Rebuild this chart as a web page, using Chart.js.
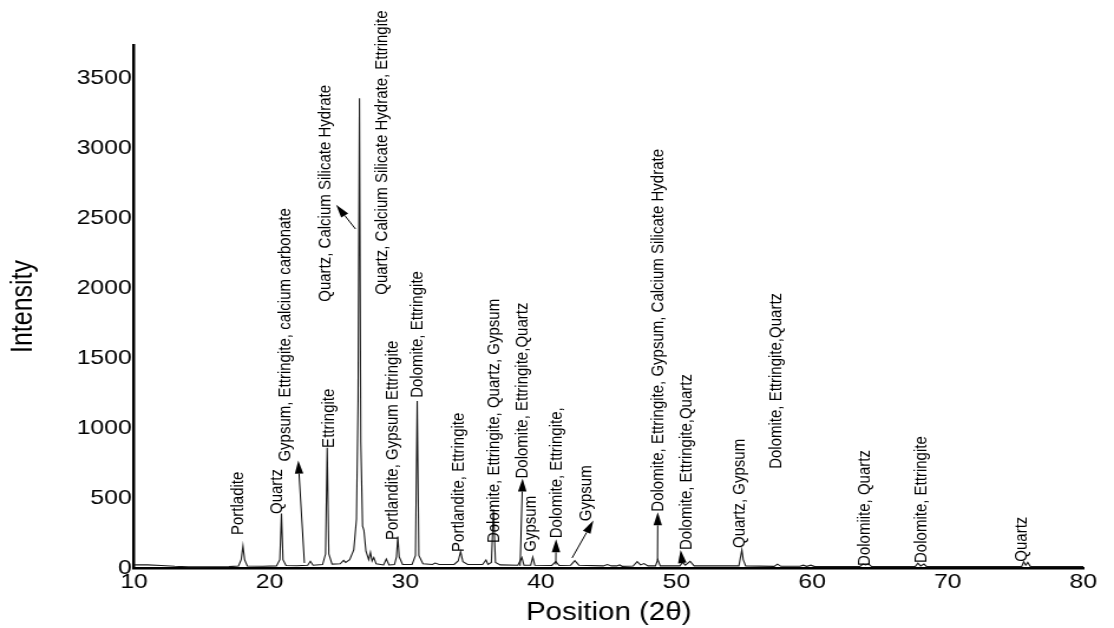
<!DOCTYPE html>
<html lang="en">
  <head>
    <meta charset="UTF-8" />
    <title>XRD pattern</title>
    <style>
      html, body { margin: 0; padding: 0; background: #fff; overflow: hidden; }
    </style>
  </head>
  <body>
    <!-- the original figure is stretched sideways, so the canvas is drawn narrower and widened by CSS -->
    <canvas id="xrd" width="944" height="628" style="width:1114px;height:628px;display:block"></canvas>

    <script src="https://cdn.jsdelivr.net/npm/chart.js"></script>
    <script>
      // diffraction angle (2 theta) and intensity
      const twoTheta = [
        10.0, 11.0, 12.0, 13.0, 14.0, 15.0, 16.0, 17.0, 17.7, 17.9, 18.03, 18.15, 18.35,
        19.5, 20.5, 20.75, 20.87, 20.98, 21.2, 22.0, 22.8, 23.0, 23.2, 23.9, 24.12, 24.24,
        24.36, 24.6, 25.2, 25.45, 25.6, 25.9, 26.2, 26.4, 26.52, 26.62, 26.72, 26.85, 26.95,
        27.1, 27.3, 27.43, 27.55, 27.68, 27.85, 28.4, 28.6, 28.8, 29.2, 29.35, 29.45, 29.55,
        29.8, 30.5, 30.75, 30.88, 31.0, 31.3, 32.0, 32.2, 32.5, 33.6, 33.9, 34.08, 34.25,
        34.6, 35.7, 35.95, 36.1, 36.35, 36.5, 36.65, 37.0, 38.3, 38.6, 38.75, 39.25, 39.4,
        39.55, 40.8, 41.1, 41.35, 42.2, 42.5, 42.8, 44.6, 44.9, 45.2, 45.6, 45.8, 46.0,
        46.8, 47.1, 47.35, 47.6, 47.9, 48.45, 48.62, 48.8, 50.25, 50.45, 50.65, 51.0, 51.3,
        54.6, 54.82, 54.92, 55.1, 57.2, 57.45, 57.7, 59.1, 59.35, 59.6, 59.9, 60.2, 63.5,
        63.75, 63.95, 64.15, 64.4, 67.6, 67.8, 68.0, 68.25, 68.45, 75.45, 75.6, 75.75, 75.9,
        76.1, 80.0
      ];
      const intensity = [
        22, 22, 18, 12, 8, 8, 9, 10, 14, 60, 157, 60, 14,
        12, 15, 60, 390, 60, 18, 16, 20, 48, 20, 25, 100, 860,
        100, 28, 30, 55, 40, 60, 130, 350, 1200, 3360, 900, 300, 270,
        120, 60, 112, 50, 75, 30, 22, 64, 22, 25, 80, 225, 80,
        25, 25, 90, 1195, 90, 30, 25, 35, 25, 25, 50, 117, 45,
        25, 25, 57, 25, 40, 420, 40, 22, 20, 75, 20, 20, 78,
        20, 18, 45, 18, 20, 52, 20, 15, 25, 15, 15, 22, 12,
        14, 45, 22, 32, 15, 15, 60, 15, 15, 40, 20, 48, 15,
        15, 130, 60, 15, 12, 28, 12, 12, 20, 12, 20, 10, 10,
        28, 22, 30, 10, 10, 35, 15, 28, 10, 10, 45, 20, 40,
        10, 10
      ];

      const xTicks = [10, 20, 30, 40, 50, 60, 70, 80];
      const yTicks = [0, 500, 1000, 1500, 2000, 2500, 3000, 3500];

      // phase labels: text, 2theta of the label column, intensity where the text starts
      const phaseText = [
        "Portladite", "Quartz", "Gypsum, Ettringite, calcium carbonate",
        "Quartz, Calcium Silicate Hydrate", "Ettringite",
        "Quartz, Calcium Silicate Hydrate, Ettringite", "Portlandite, Gypsum Ettringite",
        "Dolomite, Ettringite", "Portlandite, Ettringite",
        "Dolomite, Ettringite, Quartz, Gypsum", "Dolomite, Ettringite,Quartz", "Gypsum",
        "Dolomite, Ettringite,", "Gypsum",
        "Dolomite, Ettringite, Gypsum, Calcium Silicate Hydrate",
        "Dolomite, Ettringite,Quartz", "Quartz, Gypsum", "Dolomite, Ettringite,Quartz",
        "Dolomiite, Quartz", "Dolomite, Ettringite", "Quartz"
      ];
      const phaseAt = [17.64, 20.55, 21.2, 24.1, 24.37, 28.27, 29.12, 30.9, 33.95, 36.55,
        38.68, 39.3, 41.14, 43.35, 48.63, 50.73, 54.65, 57.37, 63.85, 68.1, 75.44];
      const phaseFrom = [236, 386, 761, 1904, 859, 1954, 200, 1217, 115, 178,
        640, 117, 213, 335, 403, 129, 143, 709, 15, 36, 45];

      // arrows: [2theta, intensity] of tail and head
      const arrowTail = [[22.56, 36], [26.33, 2424], [38.47, 15], [41.1, 25], [42.3, 72], [48.6, 55], [50.42, 40]];
      const arrowHead = [[22.11, 768], [24.9, 2598], [38.65, 640], [41.12, 205], [43.87, 339], [48.62, 398], [50.3, 128]];

      const points = twoTheta.map((t, i) => ({ x: t, y: intensity[i] }));

      const phaseLabels = {
        id: "phaseLabels",
        afterDatasetsDraw(chart) {
          const { ctx, scales } = chart;
          const xs = scales.x;
          const ys = scales.y;
          ctx.save();
          ctx.fillStyle = "#000";
          ctx.strokeStyle = "#000";
          ctx.font = "15px 'Liberation Sans', Arial, sans-serif";
          ctx.textAlign = "left";
          ctx.textBaseline = "middle";
          phaseText.forEach((txt, i) => {
            ctx.save();
            ctx.translate(xs.getPixelForValue(phaseAt[i]), ys.getPixelForValue(phaseFrom[i]));
            ctx.rotate(-Math.PI / 2);
            ctx.fillText(txt, 0, 0);
            ctx.restore();
          });

          ctx.lineWidth = 1;
          arrowTail.forEach((tail, i) => {
            const x0 = xs.getPixelForValue(tail[0]);
            const y0 = ys.getPixelForValue(tail[1]);
            const x1 = xs.getPixelForValue(arrowHead[i][0]);
            const y1 = ys.getPixelForValue(arrowHead[i][1]);
            const a = Math.atan2(y1 - y0, x1 - x0);
            const len = 13;
            const half = 3.6;
            const bx = x1 - len * Math.cos(a);
            const by = y1 - len * Math.sin(a);
            ctx.beginPath();
            ctx.moveTo(x0, y0);
            ctx.lineTo(bx, by);
            ctx.stroke();
            ctx.beginPath();
            ctx.moveTo(x1, y1);
            ctx.lineTo(bx + half * Math.sin(a), by - half * Math.cos(a));
            ctx.lineTo(bx - half * Math.sin(a), by + half * Math.cos(a));
            ctx.closePath();
            ctx.fill();
          });
          ctx.restore();
        },
      };

      new Chart(document.getElementById("xrd"), {
        type: "line",
        data: {
          datasets: [
            {
              label: "XRD",
              data: points,
              borderColor: "#1a1a1a",
              borderWidth: 1.1,
              pointRadius: 0,
              tension: 0,
              fill: false,
            },
          ],
        },
        options: {
          responsive: false,
          animation: false,
          devicePixelRatio: 1,
          layout: { padding: { left: 0, right: 26, top: 45, bottom: 0 } },
          plugins: { legend: { display: false }, tooltip: { enabled: false } },
          scales: {
            x: {
              type: "linear",
              min: 10,
              max: 80,
              afterFit: (s) => { s.height = 60; },
              afterBuildTicks: (s) => { s.ticks = xTicks.map((v) => ({ value: v })); },
              grid: { display: false, drawTicks: false },
              border: { display: true, color: "#000", width: 2.5 },
              ticks: {
                padding: 2,
                color: "#000",
                callback: (v) => String(v),
                font: { family: "'Liberation Sans', Arial, sans-serif", size: 21 },
              },
              title: {
                display: true,
                text: "Position (2θ)",
                color: "#000",
                padding: { top: 0, bottom: 0 },
                font: { family: "'Liberation Sans', Arial, sans-serif", size: 25 },
              },
            },
            y: {
              type: "linear",
              min: 0,
              max: 3740,
              afterFit: (s) => { s.width = 113.6; },
              afterBuildTicks: (s) => { s.ticks = yTicks.map((v) => ({ value: v })); },
              grid: { display: false, drawTicks: false },
              border: { display: true, color: "#000", width: 2.5 },
              ticks: {
                padding: 2,
                color: "#000",
                callback: (v) => String(v),
                font: { family: "'Liberation Sans', Arial, sans-serif", size: 21 },
              },
              title: {
                display: true,
                text: "Intensity",
                color: "#000",
                padding: { top: 5, bottom: 0 },
                font: { family: "'Liberation Sans', Arial, sans-serif", size: 25 },
              },
            },
          },
        },
        plugins: [phaseLabels],
      });
    </script>
  </body>
</html>
